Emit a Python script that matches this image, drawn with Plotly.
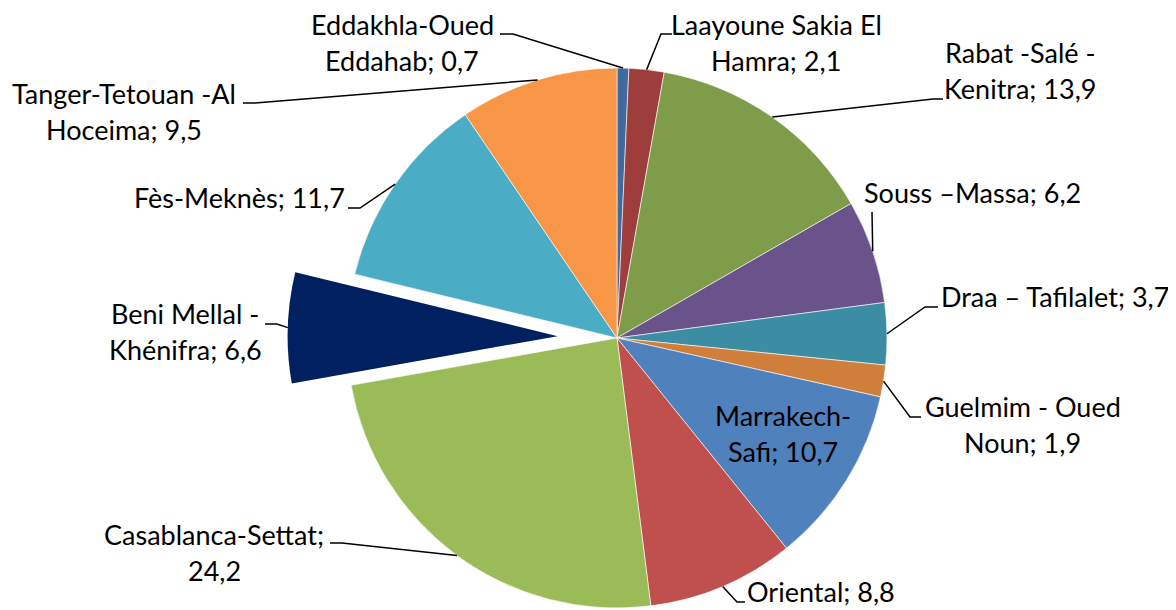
import math
import plotly.graph_objects as go

# ---------------- data ----------------
categories = ["Eddakhla-Oued Eddahab", "Laayoune Sakia El Hamra", "Rabat -Salé -Kenitra",
              "Souss –Massa", "Draa – Tafilalet", "Guelmim - Oued Noun", "Marrakech-Safi",
              "Oriental", "Casablanca-Settat", "Beni Mellal -Khénifra", "Fès-Meknès",
              "Tanger-Tetouan -Al Hoceima"]
values = [0.7, 2.1, 13.9, 6.2, 3.7, 1.9, 10.7, 8.8, 24.2, 6.6, 11.7, 9.5]
first_lines = ["Eddakhla-Oued", "Laayoune Sakia El", "Rabat -Salé -", None, None,
               "Guelmim - Oued", "Marrakech-", None, "Casablanca-Settat;", "Beni Mellal -",
               None, "Tanger-Tetouan -Al"]

# ---------------- style / layout ----------------
colors = ["#3E6BA0", "#9D3E3C", "#7F9C4A", "#6A528B", "#3C8DA3", "#D07E3B",
          "#4F81BD", "#C0504D", "#9BBB59", "#002060", "#4BACC6", "#F79646"]
pulled = 9
PULL = 0.22
OFF = 8                       # page body margin of the html page
W, H = 1176 - OFF, 610 - OFF  # figure size
CX, CY, R = 617, 338, 270     # pie centre / radius in window pixels
FS = 27
FONT = "Lato"
LINE_GAP = 36
# label centre x and first-line baseline (window pixels)
label_pos = [(402, 35), (776, 35), (1020, 63), (972, 203), (1055, 307), (1023, 417),
             (783, 426), (821, 602), (214, 545), (185, 324), (239, 208), (124, 104)]
# leader line: label-side start point and elbow point (window pixels)
leader = [((500, 34), (513, 34)), ((672, 34), (661, 34)), ((943, 99), (933, 99)),
          ((872, 212), (872, 212)), ((938, 307), (925, 307)), ((921, 417), (910, 417)),
          None, ((745, 602), (737, 602)), ((330, 543), (342, 543)),
          ((265, 324), (277, 324)), ((348, 208), (360, 208)), ((243, 103), (255, 103))]


def px(x):
    return (x - OFF) / W


def py(y):
    return 1 - (y - OFF) / H


total = sum(values)
mid_angles = []
cum = 0.0
for v in values:
    mid_angles.append(math.radians((cum + v / 2) / total * 360))
    cum += v

# pulled slice centre
pa = mid_angles[pulled]
pcx = CX + PULL * R * math.sin(pa)
pcy = CY - PULL * R * math.cos(pa)


def domain(cx, cy):
    return dict(x=[px(cx - R), px(cx + R)], y=[max(0, py(cy + R)), py(cy - R)])


main_colors = [c if i != pulled else "rgba(0,0,0,0)" for i, c in enumerate(colors)]
main_lw = [0.6 if i != pulled else 0 for i in range(len(values))]
pull_colors = [c if i == pulled else "rgba(0,0,0,0)" for i, c in enumerate(colors)]
pull_lw = [0 for _ in values]

fig = go.Figure()
fig.add_trace(go.Pie(labels=categories, values=values, sort=False, direction="clockwise",
                     rotation=0, textinfo="none", hoverinfo="label+value",
                     marker=dict(colors=main_colors, line=dict(color="white", width=main_lw)),
                     domain=domain(CX, CY), showlegend=False))
fig.add_trace(go.Pie(labels=categories, values=values, sort=False, direction="clockwise",
                     rotation=0, textinfo="none", hoverinfo="label+value",
                     marker=dict(colors=pull_colors, line=dict(color="white", width=pull_lw)),
                     domain=domain(pcx, pcy), showlegend=False))

annotations = []
shapes = []
for i, (name, v) in enumerate(zip(categories, values)):
    full = f"{name}; {v:.1f}".replace(".", ",")
    if first_lines[i]:
        lines = [first_lines[i], full[len(first_lines[i]):].strip()]
    else:
        lines = [full]
    lx, ly = label_pos[i]
    for k, t in enumerate(lines):
        base = ly + k * LINE_GAP
        annotations.append(dict(x=px(lx), y=py(base - 0.387 * FS), xref="paper", yref="paper",
                                text=t, showarrow=False, xanchor="center", yanchor="middle",
                                font=dict(family=FONT, size=FS, color="black")))
    if leader[i] is not None:
        (sx, sy), (ex, ey) = leader[i]
        ccx, ccy = (pcx, pcy) if i == pulled else (CX, CY)
        a = mid_angles[i]
        qx = ccx + R * math.sin(a)
        qy = ccy - R * math.cos(a)
        shapes.append(dict(type="path", xref="paper", yref="paper",
                           path=f"M {px(sx)},{py(sy)} L {px(ex)},{py(ey)} L {px(qx)},{py(qy)}",
                           line=dict(color="black", width=1.5)))

fig.update_layout(width=W, height=H, margin=dict(l=0, r=0, t=0, b=0),
                  paper_bgcolor="white", plot_bgcolor="white",
                  annotations=annotations, shapes=shapes)
fig.write_html("out.html")
